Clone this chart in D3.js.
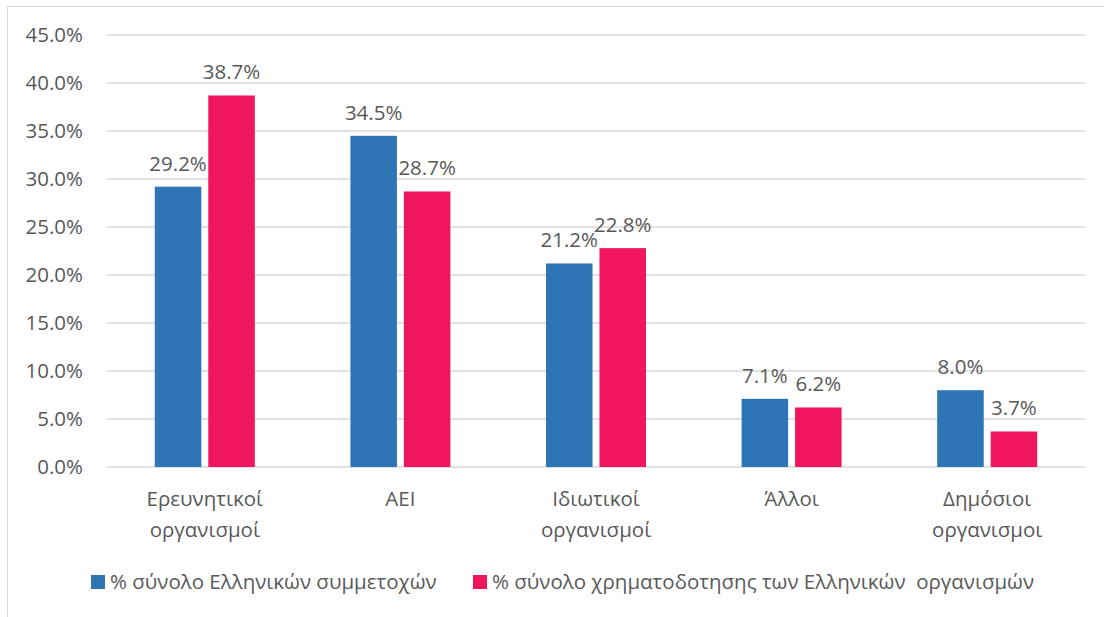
<!DOCTYPE html>
<html>
<head>
<meta charset="utf-8">
<script src="https://cdn.jsdelivr.net/npm/d3@7"></script>
<style>
  body { margin: 0; background: #fff; }
  text { font-family: "Open Sans", "Noto Sans", sans-serif; fill: #595959; }
</style>
</head>
<body>
<div id="chart"></div>
<script>
// Data
const categories = [
  ["Ερευνητικοί", "οργανισμοί"],
  ["ΑΕΙ"],
  ["Ιδιωτικοί", "οργανισμοί"],
  ["Άλλοι"],
  ["Δημόσιοι", "οργανισμοι"]
];
const participation = [29.2, 34.5, 21.2, 7.1, 8.0];
const funding = [38.7, 28.7, 22.8, 6.2, 3.7];
const seriesNames = [
  "% σύνολο Ελληνικών συμμετοχών",
  "% σύνολο χρηματοδοτησης των Ελληνικών  οργανισμών"
];
const yTicks = [0, 5, 10, 15, 20, 25, 30, 35, 40, 45];

const width = 1104, height = 617;
const margin = { top: 35, right: 19, bottom: 150, left: 107 };
const colors = ["#2E75B6", "#F0165E"];
const fontSize = 20.5;

const svg = d3.select("#chart")
  .append("svg")
  .attr("width", width)
  .attr("height", height);

// Outer chart border (only left/top visible in the reference)
svg.append("rect")
  .attr("x", 7.5).attr("y", 6.5)
  .attr("width", width + 20).attr("height", height + 20)
  .attr("fill", "none")
  .attr("stroke", "#D9D9D9");

const x = d3.scaleBand()
  .domain(d3.range(categories.length))
  .range([margin.left, width - margin.right]);

const xInner = d3.scaleBand()
  .domain([0, 1])
  .range([x.bandwidth() / 2 - 50, x.bandwidth() / 2 + 50])
  .paddingInner(0.13);

const y = d3.scaleLinear()
  .domain([0, 45])
  .range([height - margin.bottom, margin.top]);

// Gridlines
svg.append("g")
  .selectAll("line")
  .data(yTicks)
  .join("line")
  .attr("x1", margin.left)
  .attr("x2", width - margin.right)
  .attr("y1", d => y(d))
  .attr("y2", d => y(d))
  .attr("stroke", "#D9D9D9")
  .attr("stroke-width", 1.3);

// Y axis labels
const yAxis = svg.append("g")
  .attr("transform", `translate(${margin.left - 21}, 0)`)
  .call(d3.axisLeft(y).tickValues(yTicks).tickFormat(d => d.toFixed(1) + "%").tickSize(0));
yAxis.select(".domain").remove();
yAxis.selectAll("text")
  .attr("font-size", fontSize)
  .attr("fill", "#595959")
  .attr("font-family", "Open Sans");

// Bars
const series = [participation, funding];
const groups = svg.append("g")
  .selectAll("g")
  .data(categories.map((c, i) => i))
  .join("g")
  .attr("transform", i => `translate(${x(i)},0)`);

groups.selectAll("rect")
  .data(i => series.map((s, k) => ({ k, v: s[i] })))
  .join("rect")
  .attr("x", d => xInner(d.k))
  .attr("width", xInner.bandwidth())
  .attr("y", d => y(d.v))
  .attr("height", d => y(0) - y(d.v))
  .attr("fill", d => colors[d.k]);

// Value labels
groups.selectAll("text.val")
  .data(i => series.map((s, k) => ({ k, v: s[i] })))
  .join("text")
  .attr("class", "val")
  .attr("x", d => xInner(d.k) + xInner.bandwidth() / 2)
  .attr("y", d => y(d.v) - 16)
  .attr("text-anchor", "middle")
  .attr("font-size", fontSize)
  .text(d => d.v.toFixed(1) + "%");

// Category labels
groups.append("text")
  .attr("x", x.bandwidth() / 2)
  .attr("y", y(0) + 39)
  .attr("text-anchor", "middle")
  .attr("font-size", fontSize)
  .selectAll("tspan")
  .data(i => categories[i])
  .join("tspan")
  .attr("x", x.bandwidth() / 2)
  .attr("dy", (d, j) => j === 0 ? 0 : 31)
  .text(d => d);

// Legend
const legendX = [91, 473];
const legend = svg.append("g")
  .selectAll("g")
  .data(seriesNames)
  .join("g")
  .attr("transform", (d, i) => `translate(${legendX[i]}, 575)`);

legend.append("rect")
  .attr("width", 14).attr("height", 14)
  .attr("fill", (d, i) => colors[i]);

legend.append("text")
  .attr("x", 19)
  .attr("y", 14)
  .attr("font-size", fontSize)
  .style("white-space", "pre")
  .text(d => d);
</script>
</body>
</html>
